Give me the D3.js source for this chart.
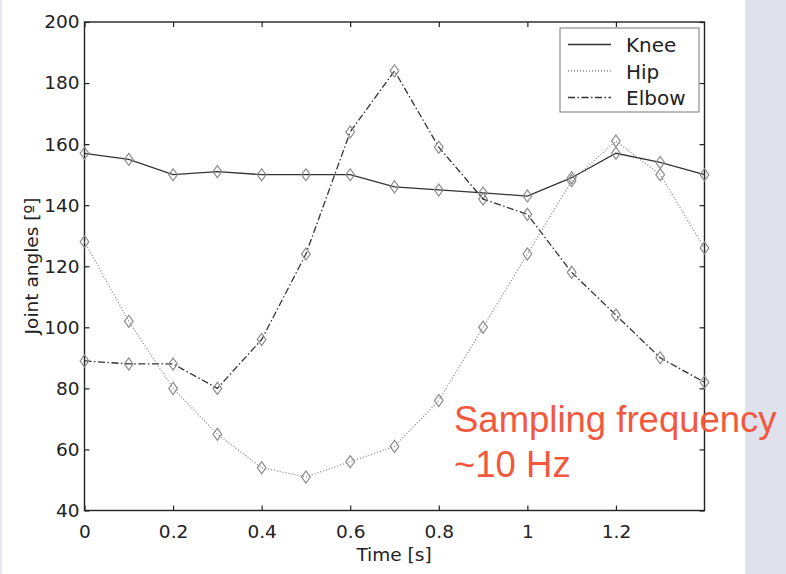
<!DOCTYPE html>
<html lang="en">
<head>
<meta charset="UTF-8">
<title>Joint angles</title>
<script src="https://cdn.jsdelivr.net/npm/d3@7"></script>
<style>
  body { margin: 0; background: #fff; }
  svg text { font-family: "DejaVu Sans", sans-serif; }
  svg text.note { font-family: "Liberation Sans", Arial, sans-serif; }
</style>
</head>
<body>
<div id="box"></div>
<script>
  // sampled every 0.1 s
  var times = [0, 0.1, 0.2, 0.3, 0.4, 0.5, 0.6, 0.7, 0.8, 0.9, 1.0, 1.1, 1.2, 1.3, 1.4];
  var knee  = [157, 155, 150, 151, 150, 150, 150, 146, 145, 144, 143, 149, 157, 154, 150];
  var hip   = [128, 102, 80, 65, 54, 51, 56, 61, 76, 100, 124, 148, 161, 150, 126];
  var elbow = [89, 88, 88, 80, 96, 124, 164, 184, 159, 142, 137, 118, 104, 90, 82];
  var xTicks = [0, 0.2, 0.4, 0.6, 0.8, 1, 1.2];
  var yTicks = [40, 60, 80, 100, 120, 140, 160, 180, 200];

  var series = [
    { name: 'Knee',  values: knee,  dash: null,        color: '#333' },
    { name: 'Hip',   values: hip,   dash: '1,2',       color: '#888' },
    { name: 'Elbow', values: elbow, dash: '7,2.5,1.5,2.5', color: '#333' }
  ];

  var width = 786, height = 574;
  var pLeft = 84.5, pRight = 704.5, pTop = 22, pBottom = 510.5;

  var svg = d3.select('#box').append('svg')
    .attr('width', width).attr('height', height);

  // grey strip on the right and faint one on the left
  svg.append('rect').attr('x', 745).attr('y', 0).attr('width', 41).attr('height', height).attr('fill', '#dfe2ec');
  svg.append('rect').attr('x', 0).attr('y', 0).attr('width', 2).attr('height', height).attr('fill', '#e6e9f1');

  var x = d3.scaleLinear().domain([0, 1.4]).range([pLeft, pRight]);
  var y = d3.scaleLinear().domain([40, 200]).range([pBottom, pTop]);

  var tick = 5;
  function styleAxis(g) {
    g.select('.domain').remove();
    g.selectAll('line').attr('stroke', '#222').attr('stroke-width', 1.2);
    g.selectAll('text').attr('fill', '#222').style('font-size', '18.5px');
  }

  svg.append('g').attr('transform', 'translate(0,' + pBottom + ')')
    .call(d3.axisBottom(x).tickValues(xTicks).tickFormat(d3.format('~g')).tickSizeInner(-tick).tickPadding(14))
    .call(styleAxis);
  svg.append('g').attr('transform', 'translate(0,' + pTop + ')')
    .call(d3.axisTop(x).tickValues(xTicks).tickFormat('').tickSizeInner(-tick))
    .call(styleAxis);
  svg.append('g').attr('transform', 'translate(' + pLeft + ',0)')
    .call(d3.axisLeft(y).tickValues(yTicks).tickSizeInner(-tick).tickPadding(5))
    .call(styleAxis);
  svg.append('g').attr('transform', 'translate(' + pRight + ',0)')
    .call(d3.axisRight(y).tickValues(yTicks).tickFormat('').tickSizeInner(-tick))
    .call(styleAxis);

  svg.append('rect')
    .attr('x', pLeft).attr('y', pTop)
    .attr('width', pRight - pLeft).attr('height', pBottom - pTop)
    .attr('fill', 'none').attr('stroke', '#222').attr('stroke-width', 1.4);

  var line = d3.line().x(function(d, i) { return x(times[i]); }).y(function(d) { return y(d); });

  series.forEach(function(s) {
    svg.append('path')
      .datum(s.values)
      .attr('d', line)
      .attr('fill', 'none')
      .attr('stroke', s.color)
      .attr('stroke-width', 1.3)
      .attr('stroke-dasharray', s.dash);
    svg.append('g').selectAll('path')
      .data(s.values)
      .enter().append('path')
      .attr('d', d3.symbol().type(d3.symbolDiamond).size(42))
      .attr('transform', function(d, i) { return 'translate(' + x(times[i]) + ',' + y(d) + ') scale(1.25,1)'; })
      .attr('fill', 'none')
      .attr('stroke', '#8a8a8a')
      .attr('stroke-width', 1);
  });

  // legend
  var lg = svg.append('g');
  lg.append('rect').attr('x', 560).attr('y', 28).attr('width', 139).attr('height', 84)
    .attr('fill', '#fff').attr('stroke', '#777').attr('stroke-width', 1);
  series.forEach(function(s, i) {
    var yy = 44.5 + i * 26.5;
    lg.append('line').attr('x1', 568).attr('x2', 611).attr('y1', yy).attr('y2', yy)
      .attr('stroke', s.color).attr('stroke-width', 1.3).attr('stroke-dasharray', s.dash);
    lg.append('text').attr('x', 626).attr('y', yy + 7.5).text(s.name)
      .style('font-size', '20px').attr('fill', '#222');
  });

  // axis titles
  svg.append('text').attr('x', 394).attr('y', 561)
    .attr('text-anchor', 'middle').style('font-size', '18.5px').attr('fill', '#222')
    .text('Time [s]');
  svg.append('text')
    .attr('transform', 'translate(38,266) rotate(-90)')
    .attr('text-anchor', 'middle').style('font-size', '18.5px').attr('fill', '#222')
    .text('Joint angles [º]');

  // annotation
  var note = svg.append('text').attr('class', 'note').attr('fill', '#f2583e').style('font-size', '36.5px');
  note.append('tspan').attr('x', 454).attr('y', 432).text('Sampling frequency');
  note.append('tspan').attr('x', 454).attr('y', 477).text('~10 Hz');
</script>
</body>
</html>
